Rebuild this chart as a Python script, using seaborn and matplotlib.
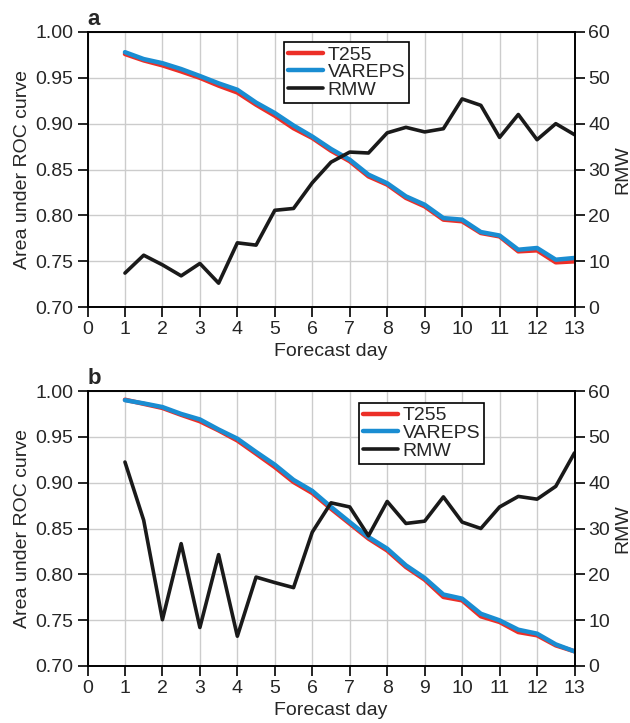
import numpy as np
import pandas as pd
import matplotlib
matplotlib.use("Agg")
import matplotlib.pyplot as plt
import seaborn as sns

sns.set_theme(style="white")
plt.rcParams['font.family'] = ['Liberation Sans', 'DejaVu Sans']

days = [1, 1.5, 2, 2.5, 3, 3.5, 4, 4.5, 5, 5.5, 6, 6.5, 7, 7.5, 8, 8.5, 9, 9.5,
        10, 10.5, 11, 11.5, 12, 12.5, 13]

a_t255 = [0.976, 0.969, 0.9636, 0.957, 0.950, 0.9415, 0.934, 0.9207, 0.9087, 0.895,
          0.8844, 0.8705, 0.859, 0.8425, 0.8335, 0.819, 0.8098, 0.7953, 0.7935,
          0.7807, 0.777, 0.7607, 0.7618, 0.7487, 0.7498]
a_vareps = [0.978, 0.9705, 0.966, 0.9596, 0.952, 0.944, 0.937, 0.923, 0.9116, 0.898,
            0.886, 0.8724, 0.8607, 0.8444, 0.835, 0.8207, 0.8116, 0.797, 0.7953,
            0.7818, 0.778, 0.7625, 0.7644, 0.7516, 0.7535]
a_rmw = [7.4, 11.3, 9.2, 6.8, 9.5, 5.2, 14.0, 13.5, 21.1, 21.5, 27.1, 31.6, 33.8,
         33.6, 38.0, 39.2, 38.2, 38.9, 45.4, 44.0, 37.0, 42.0, 36.5, 40.0, 37.6]

b_t255 = [0.9905, 0.986, 0.9815, 0.974, 0.967, 0.957, 0.946, 0.9316, 0.917, 0.9007,
          0.8887, 0.8716, 0.8553, 0.839, 0.826, 0.808, 0.7942, 0.7753, 0.7716,
          0.7542, 0.748, 0.737, 0.7335, 0.7225, 0.716]
b_vareps = [0.990, 0.9865, 0.9825, 0.975, 0.969, 0.958, 0.948, 0.9335, 0.9196, 0.903,
            0.891, 0.8735, 0.857, 0.8407, 0.828, 0.8098, 0.796, 0.778, 0.7735,
            0.757, 0.7498, 0.7396, 0.7353, 0.7236, 0.716]
b_rmw = [44.5, 31.8, 10.1, 26.7, 8.4, 24.3, 6.5, 19.4, 18.2, 17.1, 29.2, 35.6, 34.7,
         28.4, 35.9, 31.1, 31.6, 36.9, 31.4, 30.0, 34.7, 37.0, 36.4, 39.2, 46.5]

panel_labels = ["a", "b"]
RED = "#ec2f27"
BLUE = "#1a8dd2"
FS = 14

fig = plt.figure(figsize=(6.3, 7.23), dpi=100)
L, W, H = 87.5 / 630, 487 / 630, 275 / 723
bottoms = [1 - 307 / 723, 1 - 666 / 723]
legend_pos = [(284, 42), (359, 403)]

for i, (t, v, r) in enumerate([(a_t255, a_vareps, a_rmw), (b_t255, b_vareps, b_rmw)]):
    ax = fig.add_axes([L, bottoms[i], W, H])
    df = pd.DataFrame({"day": days, "T255": t, "VAREPS": v, "RMW": r})
    ax.grid(True, color="#cccccc", linewidth=1.0)
    ax.set_axisbelow(True)
    sns.lineplot(data=df, x="day", y="T255", ax=ax, color=RED, linewidth=3.2, label="T255", legend=False)
    sns.lineplot(data=df, x="day", y="VAREPS", ax=ax, color=BLUE, linewidth=3.2, label="VAREPS", legend=False)
    ax2 = ax.twinx()
    sns.lineplot(data=df, x="day", y="RMW", ax=ax2, color="#1a1a1a", linewidth=2.6, label="RMW", legend=False)
    ax.set_xlim(0, 13)
    ax.set_ylim(0.70, 1.00)
    ax2.set_ylim(0, 60)
    ax.set_xticks(range(0, 14))
    ax.set_yticks(np.arange(0.70, 1.001, 0.05))
    ax.set_yticklabels([f"{y:.2f}" for y in np.arange(0.70, 1.001, 0.05)])
    ax2.set_yticks(range(0, 61, 10))
    ax.set_xlabel("Forecast day", fontsize=FS, labelpad=4)
    ax.set_ylabel("Area under ROC curve", fontsize=FS, labelpad=3)
    ax2.set_ylabel("RMW", fontsize=FS, labelpad=3)
    for a_ in (ax, ax2):
        a_.tick_params(direction="out", length=7, width=1.2, labelsize=FS, color="black", pad=3)
        for s in a_.spines.values():
            s.set_color("black")
            s.set_linewidth(1.2)
    ax.tick_params(axis="x", bottom=True)
    ax.tick_params(axis="y", left=True)
    ax2.tick_params(axis="y", right=True)
    ax2.grid(False)
    h1, l1 = ax.get_legend_handles_labels()
    h2, l2 = ax2.get_legend_handles_labels()
    lx, ly = legend_pos[i]
    leg = ax2.legend(h1 + h2, l1 + l2, loc="upper left",
                     bbox_to_anchor=(lx / 630, 1 - ly / 723), bbox_transform=fig.transFigure,
                     fontsize=FS, frameon=True, fancybox=False, framealpha=1,
                     edgecolor="black", borderpad=0.2, labelspacing=0.0,
                     handlelength=1.8, handletextpad=0.25, borderaxespad=0)
    leg.get_frame().set_linewidth(1.2)
    fig.text(L, bottoms[i] + H + 0.003, panel_labels[i], fontsize=16,
             fontweight="bold", ha="left", va="bottom")

fig.savefig("out.png", dpi=100)
